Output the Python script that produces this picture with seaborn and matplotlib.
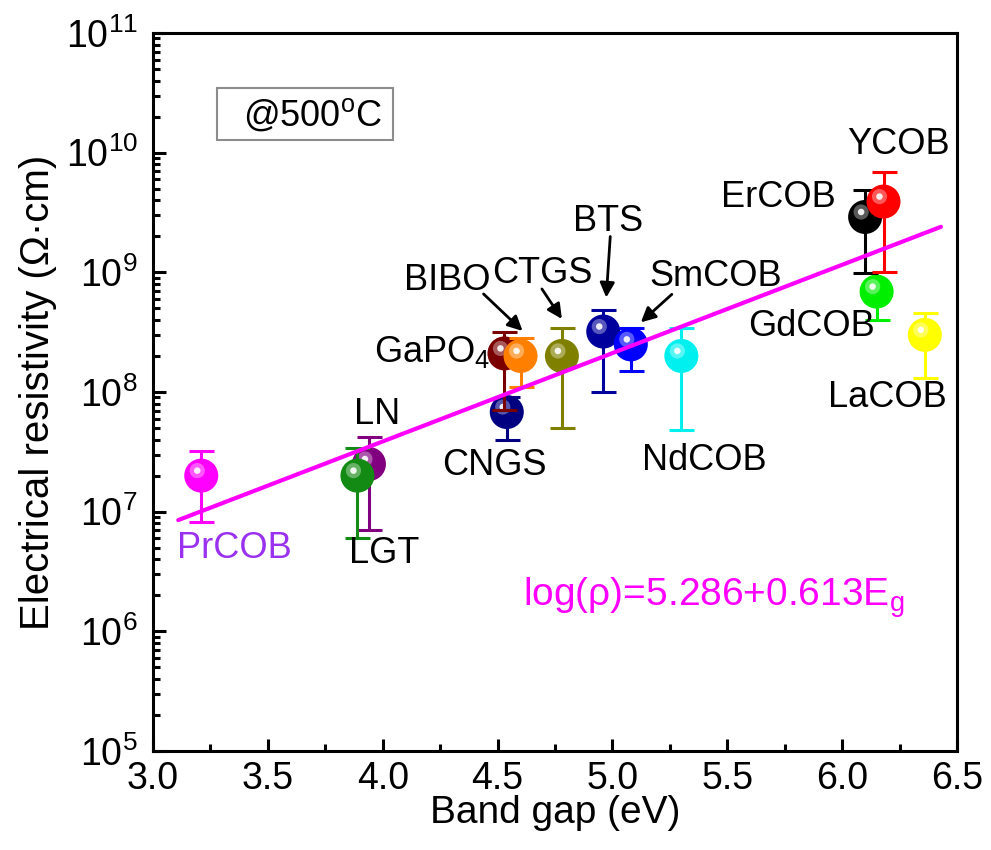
import matplotlib
matplotlib.use("Agg")
import matplotlib.pyplot as plt
import matplotlib.transforms as mtransforms
from matplotlib.patches import Rectangle
from matplotlib.text import OffsetFrom
from matplotlib.ticker import LogLocator, MultipleLocator, FormatStrFormatter, LogFormatterMathtext, NullFormatter
import seaborn as sns

# datos (orden de dibujo)
cristales = ["PrCOB", "LN", "LGT", "CNGS", "GaPO4", "BIBO", "CTGS", "BTS",
             "SmCOB", "NdCOB", "GdCOB", "ErCOB", "YCOB", "LaCOB"]
band_gap = [3.21, 3.94, 3.89, 4.54, 4.53, 4.60, 4.78, 4.96,
            5.08, 5.30, 6.15, 6.10, 6.18, 6.36]
resistividad = [2.0e7, 2.5e7, 2.0e7, 6.8e7, 2.1e8, 2.0e8, 2.0e8, 3.2e8,
                2.5e8, 2.0e8, 6.9e8, 2.9e9, 3.9e9, 3.0e8]
err_inf = [8.2e6, 7.0e6, 6.0e6, 4.0e7, 7.1e7, 1.1e8, 5.0e7, 1.0e8,
           1.5e8, 4.8e7, 4.0e8, 9.8e8, 1.0e9, 1.3e8]
err_sup = [3.2e7, 4.2e7, 3.4e7, 9.0e7, 3.2e8, 2.8e8, 3.4e8, 4.8e8,
           3.4e8, 3.4e8, 8.0e8, 4.9e9, 6.9e9, 4.6e8]
colores = ["#ff00ff", "#800080", "#138a13", "#000080", "#7a0000", "#ff8000", "#808000", "#00009c",
           "#0000ff", "#00f0f0", "#00ee00", "#000000", "#ff0000", "#ffff00"]

# recta de ajuste tal como aparece dibujada
ajuste_gap = [3.11, 6.43]
ajuste_rho = [8.5e6, 2.4e9]

# posiciones de las etiquetas (desplazamiento en pixeles respecto al punto)
etiquetas = {
    "PrCOB": ("PrCOB", (33, -73), "#9a30f0"),
    "LN": ("LN", (8, 50), "black"),
    "LGT": ("LGT", (27, -78), "black"),
    "CNGS": ("CNGS", (-12, -53), "black"),
    "GaPO4": ("GaPO$_4$", (-72, 1), "black"),
    "BIBO": ("BIBO", (-73, 75), "black"),
    "CTGS": ("CTGS", (-20, 82), "black"),
    "BTS": ("BTS", (5, 110), "black"),
    "SmCOB": ("SmCOB", (85, 68), "black"),
    "NdCOB": ("NdCOB", (23, -105), "black"),
    "GdCOB": ("GdCOB", (-65, -35), "black"),
    "ErCOB": ("ErCOB", (-87, 19), "black"),
    "YCOB": ("YCOB", (15, 57), "black"),
    "LaCOB": ("LaCOB", (-37, -63), "black"),
}
# flechas: (cola, punta) en pixeles respecto al punto
flechas = {
    "BIBO": ((-37, 62), (2, 25)),
    "CTGS": ((-20, 67), (0, 37)),
    "BTS": ((7, 95), (3, 34)),
    "SmCOB": ((41, 50), (10, 22)),
}

sns.set_theme(style="ticks")
plt.rcParams["font.family"] = ["Liberation Sans", "DejaVu Sans"]
plt.rcParams["mathtext.fontset"] = "custom"
plt.rcParams["mathtext.rm"] = "Liberation Sans"
plt.rcParams["mathtext.it"] = "Liberation Sans:italic"
plt.rcParams["mathtext.default"] = "regular"
for clave in ["text.color", "axes.labelcolor", "xtick.color", "ytick.color", "xtick.labelcolor", "ytick.labelcolor"]:
    plt.rcParams[clave] = "black"

fig = plt.figure(figsize=(9.91, 8.5), dpi=100)
ax = fig.add_axes([0.1544, 0.1165, 0.8113, 0.8447])
ax.set_yscale("log")

# barras de error y esferas
for i, nombre in enumerate(cristales):
    x, y, c = band_gap[i], resistividad[i], colores[i]
    ax.errorbar([x], [y], yerr=[[y - err_inf[i]], [err_sup[i] - y]], fmt="none",
                ecolor=c, elinewidth=2.2, capsize=9, capthick=2.2, zorder=3 + 3 * i)
    sns.scatterplot(x=[x], y=[y], color=c, s=600, edgecolor="none", ax=ax,
                    zorder=4 + 3 * i, legend=False)
    brillo = mtransforms.offset_copy(ax.transData, fig=fig, x=-4, y=5, units="dots")
    ax.scatter([x], [y], s=120, color="white", alpha=0.35, edgecolor="none",
               transform=brillo, zorder=5 + 3 * i)
    ax.scatter([x], [y], s=22, color="white", alpha=0.9, edgecolor="none",
               transform=brillo, zorder=5 + 3 * i)

# recta de ajuste
sns.lineplot(x=ajuste_gap, y=ajuste_rho, color="#ff00ff", linewidth=3, ax=ax, zorder=60)

# etiquetas de cada cristal
for i, nombre in enumerate(cristales):
    texto, (dx, dy), col = etiquetas[nombre]
    ax.annotate(texto, xy=(band_gap[i], resistividad[i]), xytext=(dx, dy),
                textcoords="offset pixels", ha="center", va="center",
                fontsize=26, color=col, zorder=70)
    if nombre in flechas:
        cola, punta = flechas[nombre]
        ref = OffsetFrom(ax.transData, (band_gap[i], resistividad[i]), unit="pixels")
        ax.annotate("", xy=punta, xycoords=ref, xytext=cola, textcoords=ref,
                    arrowprops=dict(arrowstyle="-|>", color="black", lw=2,
                                    mutation_scale=22, shrinkA=0, shrinkB=0),
                    zorder=70)

# ecuacion y caja de temperatura
ax.text(0.697, 0.213, "log(ρ)=5.286+0.613E$_{\\mathrm{g}}$", transform=ax.transAxes,
        color="#ff00ff", fontsize=28, ha="center", va="center")
ax.add_patch(Rectangle((0.0796, 0.851), 0.219, 0.0724, transform=ax.transAxes,
                       fill=False, edgecolor="#8c8c8c", linewidth=1.5))
ax.text(0.199, 0.886, "@500$^{\\mathrm{o}}$C", transform=ax.transAxes,
        fontsize=26, ha="center", va="center")

# ejes
ax.set_xlim(3.0, 6.5)
ax.set_ylim(1e5, 1e11)
ax.xaxis.set_major_locator(MultipleLocator(0.5))
ax.xaxis.set_minor_locator(MultipleLocator(0.25))
ax.xaxis.set_major_formatter(FormatStrFormatter("%.1f"))
ax.yaxis.set_major_locator(LogLocator(base=10, numticks=10))
ax.yaxis.set_minor_locator(LogLocator(base=10, subs=range(2, 10), numticks=20))
ax.yaxis.set_major_formatter(LogFormatterMathtext())
ax.yaxis.set_minor_formatter(NullFormatter())
ax.tick_params(which="both", direction="in", top=False, right=False, width=2.2, color="black")
ax.tick_params(which="major", length=9, labelsize=27)
ax.tick_params(which="minor", length=5)
ax.tick_params(axis="y", which="major", pad=11)
ax.tick_params(axis="x", which="major", pad=7)
for sp in ax.spines.values():
    sp.set_linewidth(2.2)
    sp.set_color("black")

ax.set_xlabel("Band gap (eV)", fontsize=28, labelpad=-1)
ax.set_ylabel("Electrical resistivity (Ω·cm)", fontsize=29, labelpad=6)

fig.savefig("out.png", dpi=100)
